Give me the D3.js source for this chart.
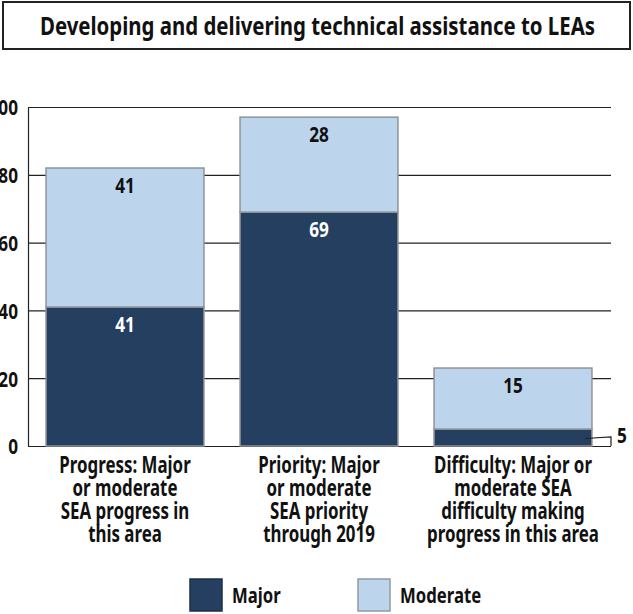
<!DOCTYPE html>
<html>
<head>
<meta charset="utf-8">
<script src="https://cdn.jsdelivr.net/npm/d3@7"></script>
<style>
  html, body { margin: 0; padding: 0; background: #fff; }
  svg text { font-family: "Noto Sans", "Open Sans", "DejaVu Sans", sans-serif; font-weight: bold; }
</style>
</head>
<body>
<svg id="chart" width="633" height="614"></svg>
<script>
// ---- data ----
const title = "Developing and delivering technical assistance to LEAs";
const categories = ["Progress", "Priority", "Difficulty"];
const categoryLabels = [
  ["Progress: Major", "or moderate", "SEA progress in", "this area"],
  ["Priority: Major", "or moderate", "SEA priority", "through 2019"],
  ["Difficulty: Major or", "moderate SEA", "difficulty making", "progress in this area"]
];
const seriesNames = ["Major", "Moderate"];
const majorValues = [41, 69, 5];
const moderateValues = [41, 28, 18];      // drawn heights
const majorLabels = ["41", "69", "5"];
const moderateLabels = ["41", "28", "15"];
const yTicks = [0, 20, 40, 60, 80, 100];
const colors = { Major: "#243f5f", Moderate: "#bdd5ec" };

// ---- helpers ----
function condense(sel, f) {
  sel.each(function () {
    const w = this.getComputedTextLength();
    d3.select(this).attr("textLength", w * f).attr("lengthAdjust", "spacingAndGlyphs");
  });
}

// ---- layout ----
const svg = d3.select("#chart");
const x = d3.scaleBand().domain(categories).range([28, 610]).paddingInner(0.186).paddingOuter(0.093);
const y = d3.scaleLinear().domain([0, 100]).range([446, 107]);

// title box
svg.append("rect").attr("x", 3).attr("y", 2).attr("width", 627).attr("height", 47)
  .attr("fill", "#fff").attr("stroke", "#222").attr("stroke-width", 2);
svg.append("text").attr("x", 317.5).attr("y", 35).attr("text-anchor", "middle")
  .attr("font-size", 25).attr("fill", "#111").text(title)
  .attr("textLength", 555).attr("lengthAdjust", "spacingAndGlyphs");

// gridlines
svg.append("g").selectAll("line").data(yTicks).join("line")
  .attr("x1", 28).attr("x2", 611)
  .attr("y1", d => y(d) + 0.5).attr("y2", d => y(d) + 0.5)
  .attr("stroke", "#222").attr("stroke-width", 1.2);

// y axis
const yAxis = d3.axisLeft(y).tickValues(yTicks).tickSize(0).tickPadding(10);
const gy = svg.append("g").attr("transform", "translate(28,0)").call(yAxis);
gy.select(".domain").attr("stroke", "#222").attr("stroke-width", 1.2);
gy.selectAll("text").attr("font-size", 22).attr("fill", "#111")
  .style("font-family", "\"Noto Sans\", \"Open Sans\", sans-serif")
  .style("font-weight", "bold")
  .attr("dy", "0.36em");
condense(gy.selectAll("text"), 0.78);

// stacked data
const rows = categories.map((c, i) => ({ cat: c, Major: majorValues[i], Moderate: moderateValues[i] }));
const stacked = d3.stack().keys(seriesNames)(rows);

svg.append("g").selectAll("g").data(stacked).join("g")
  .attr("fill", d => colors[d.key])
  .selectAll("rect").data(d => d).join("rect")
  .attr("x", d => x(d.data.cat))
  .attr("width", x.bandwidth())
  .attr("y", d => y(d[1]))
  .attr("height", d => y(d[0]) - y(d[1]))
  .attr("stroke", "#8f9398").attr("stroke-width", 1.5);

// value labels
const labelG = svg.append("g").attr("text-anchor", "middle").attr("font-size", 22);
categories.forEach((c, i) => {
  const cx = x(c) + x.bandwidth() / 2;
  labelG.append("text").attr("x", cx).attr("y", y(majorValues[i] + moderateValues[i]) + 25)
    .attr("fill", "#111").text(moderateLabels[i]);
  if (majorValues[i] >= 10) {
    labelG.append("text").attr("x", cx).attr("y", y(majorValues[i]) + 25)
      .attr("fill", "#fff").text(majorLabels[i]);
  } else {
    const x1 = x(c) + x.bandwidth() - 7, y1 = y(majorValues[i] / 2) + 1;
    const x2 = x.range()[1] + 1, y2 = y(0) - 9;
    svg.append("path")
      .attr("d", `M${x1},${y1}L${x2},${y2}L${x2},${y(0)}`)
      .attr("fill", "none").attr("stroke", "#222").attr("stroke-width", 1.2);
    const t = svg.append("text").attr("x", x2 + 6).attr("y", y(0) - 3)
      .attr("font-size", 22).attr("fill", "#111").text(majorLabels[i]);
    condense(t, 0.78);
  }
});
condense(labelG.selectAll("text"), 0.78);

// category labels
const catG = svg.append("g").attr("text-anchor", "middle").attr("font-size", 22.5).attr("fill", "#111");
categories.forEach((c, i) => {
  const cx = x(c) + x.bandwidth() / 2;
  categoryLabels[i].forEach((line, j) => {
    catG.append("text").attr("x", cx).attr("y", 473 + j * 23).text(line);
  });
});
condense(catG.selectAll("text"), 0.75);

// legend
const legendX = [190, 358];
seriesNames.forEach((s, i) => {
  svg.append("rect").attr("x", legendX[i]).attr("y", 579).attr("width", 32).attr("height", 32)
    .attr("fill", colors[s]).attr("stroke", i === 0 ? "#1c2f45" : "#8f9aa5").attr("stroke-width", 1.5);
  const t = svg.append("text").attr("x", legendX[i] + 42).attr("y", 603).attr("font-size", 22)
    .attr("fill", "#111").text(s);
  condense(t, 0.76);
});
</script>
</body>
</html>
